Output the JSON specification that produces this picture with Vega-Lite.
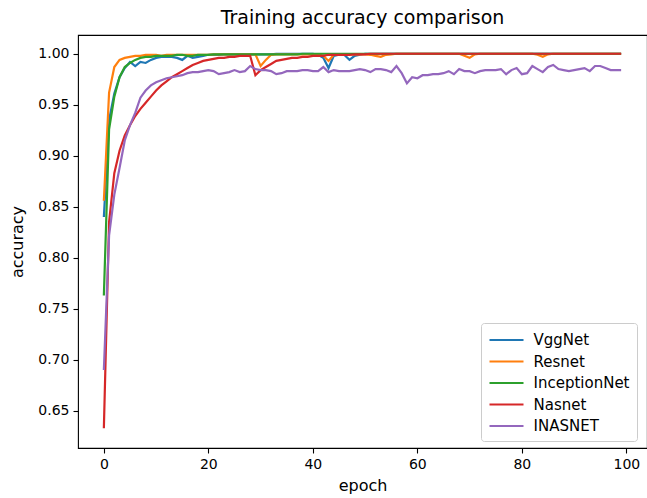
{
  "$schema": "https://vega.github.io/schema/vega-lite/v6.json",
  "width": 569,
  "height": 413,
  "autosize": {"type": "none"},
  "padding": {"left": 78, "top": 35, "right": 0, "bottom": 50},
  "background": "white",
  "title": {"text": "Training accuracy comparison", "font": "DejaVu Sans", "fontSize": 19, "fontWeight": "normal", "color": "black", "offset": 7, "anchor": "middle"},
  "config": {
    "view": {"stroke": "black", "strokeWidth": 1.1},
    "axis": {"domain": false, "grid": false, "tickColor": "black", "tickSize": 5, "tickWidth": 1.1, "labelFont": "DejaVu Sans", "labelFontSize": 14, "labelColor": "black", "labelPadding": 4, "titleFont": "DejaVu Sans", "titleFontSize": 16, "titleFontWeight": "normal", "titleColor": "black"},
    "legend": {"labelFont": "DejaVu Sans", "labelFontSize": 15, "labelColor": "black"}
  },
  "data": {"values": [
    {"epoch":0,"VggNet":0.840,"Resnet":0.856,"InceptionNet":0.763,"Nasnet":0.633,"INASNET":0.690},
    {"epoch":1,"VggNet":0.935,"Resnet":0.962,"InceptionNet":0.926,"Nasnet":0.835,"INASNET":0.822},
    {"epoch":2,"VggNet":0.961,"Resnet":0.987,"InceptionNet":0.958,"Nasnet":0.883,"INASNET":0.862},
    {"epoch":3,"VggNet":0.977,"Resnet":0.994,"InceptionNet":0.977,"Nasnet":0.905,"INASNET":0.888},
    {"epoch":4,"VggNet":0.986,"Resnet":0.996,"InceptionNet":0.987,"Nasnet":0.920,"INASNET":0.915},
    {"epoch":5,"VggNet":0.992,"Resnet":0.997,"InceptionNet":0.991,"Nasnet":0.930,"INASNET":0.930},
    {"epoch":6,"VggNet":0.988,"Resnet":0.998,"InceptionNet":0.994,"Nasnet":0.939,"INASNET":0.942},
    {"epoch":7,"VggNet":0.992,"Resnet":0.998,"InceptionNet":0.996,"Nasnet":0.946,"INASNET":0.957},
    {"epoch":8,"VggNet":0.991,"Resnet":0.999,"InceptionNet":0.997,"Nasnet":0.952,"INASNET":0.964},
    {"epoch":9,"VggNet":0.994,"Resnet":0.999,"InceptionNet":0.997,"Nasnet":0.958,"INASNET":0.969},
    {"epoch":10,"VggNet":0.996,"Resnet":0.999,"InceptionNet":0.998,"Nasnet":0.964,"INASNET":0.972},
    {"epoch":11,"VggNet":0.997,"Resnet":0.998,"InceptionNet":0.998,"Nasnet":0.969,"INASNET":0.974},
    {"epoch":12,"VggNet":0.997,"Resnet":0.999,"InceptionNet":0.998,"Nasnet":0.973,"INASNET":0.976},
    {"epoch":13,"VggNet":0.997,"Resnet":0.999,"InceptionNet":0.998,"Nasnet":0.977,"INASNET":0.977},
    {"epoch":14,"VggNet":0.996,"Resnet":0.999,"InceptionNet":0.999,"Nasnet":0.980,"INASNET":0.978},
    {"epoch":15,"VggNet":0.994,"Resnet":0.999,"InceptionNet":0.999,"Nasnet":0.983,"INASNET":0.979},
    {"epoch":16,"VggNet":0.998,"Resnet":0.999,"InceptionNet":0.998,"Nasnet":0.986,"INASNET":0.981},
    {"epoch":17,"VggNet":0.996,"Resnet":0.999,"InceptionNet":0.998,"Nasnet":0.989,"INASNET":0.982},
    {"epoch":18,"VggNet":0.997,"Resnet":0.999,"InceptionNet":0.999,"Nasnet":0.991,"INASNET":0.982},
    {"epoch":19,"VggNet":0.998,"Resnet":0.999,"InceptionNet":0.999,"Nasnet":0.993,"INASNET":0.983},
    {"epoch":20,"VggNet":0.999,"Resnet":0.999,"InceptionNet":0.999,"Nasnet":0.994,"INASNET":0.984},
    {"epoch":21,"VggNet":0.999,"Resnet":0.9995,"InceptionNet":0.9995,"Nasnet":0.995,"INASNET":0.983},
    {"epoch":22,"VggNet":0.999,"Resnet":0.9995,"InceptionNet":0.9995,"Nasnet":0.996,"INASNET":0.980},
    {"epoch":23,"VggNet":0.9995,"Resnet":0.9995,"InceptionNet":0.9995,"Nasnet":0.996,"INASNET":0.981},
    {"epoch":24,"VggNet":0.9995,"Resnet":0.9995,"InceptionNet":0.9995,"Nasnet":0.997,"INASNET":0.982},
    {"epoch":25,"VggNet":0.9995,"Resnet":0.9995,"InceptionNet":0.9995,"Nasnet":0.997,"INASNET":0.984},
    {"epoch":26,"VggNet":0.9995,"Resnet":0.9995,"InceptionNet":0.9995,"Nasnet":0.998,"INASNET":0.982},
    {"epoch":27,"VggNet":0.9995,"Resnet":0.9995,"InceptionNet":0.9995,"Nasnet":0.998,"INASNET":0.983},
    {"epoch":28,"VggNet":0.9995,"Resnet":0.9995,"InceptionNet":0.9995,"Nasnet":0.998,"INASNET":0.988},
    {"epoch":29,"VggNet":0.9995,"Resnet":0.9995,"InceptionNet":0.9995,"Nasnet":0.979,"INASNET":0.985},
    {"epoch":30,"VggNet":0.9995,"Resnet":0.988,"InceptionNet":0.9995,"Nasnet":0.984,"INASNET":0.984},
    {"epoch":31,"VggNet":0.9995,"Resnet":0.994,"InceptionNet":0.9995,"Nasnet":0.987,"INASNET":0.984},
    {"epoch":32,"VggNet":0.9995,"Resnet":0.999,"InceptionNet":0.9995,"Nasnet":0.990,"INASNET":0.983},
    {"epoch":33,"VggNet":1.0,"Resnet":0.9995,"InceptionNet":0.9995,"Nasnet":0.993,"INASNET":0.980},
    {"epoch":34,"VggNet":1.0,"Resnet":0.9995,"InceptionNet":0.9995,"Nasnet":0.994,"INASNET":0.981},
    {"epoch":35,"VggNet":1.0,"Resnet":0.9995,"InceptionNet":0.9995,"Nasnet":0.995,"INASNET":0.983},
    {"epoch":36,"VggNet":1.0,"Resnet":0.9995,"InceptionNet":0.9995,"Nasnet":0.996,"INASNET":0.983},
    {"epoch":37,"VggNet":1.0,"Resnet":0.9995,"InceptionNet":0.9995,"Nasnet":0.996,"INASNET":0.983},
    {"epoch":38,"VggNet":1.0,"Resnet":0.9995,"InceptionNet":1.0,"Nasnet":0.997,"INASNET":0.984},
    {"epoch":39,"VggNet":1.0,"Resnet":0.9995,"InceptionNet":1.0,"Nasnet":0.997,"INASNET":0.984},
    {"epoch":40,"VggNet":1.0,"Resnet":0.9995,"InceptionNet":1.0,"Nasnet":0.998,"INASNET":0.983},
    {"epoch":41,"VggNet":0.999,"Resnet":0.9995,"InceptionNet":1.0,"Nasnet":0.998,"INASNET":0.983},
    {"epoch":42,"VggNet":0.996,"Resnet":0.998,"InceptionNet":1.0,"Nasnet":0.998,"INASNET":0.987},
    {"epoch":43,"VggNet":0.986,"Resnet":0.993,"InceptionNet":1.0,"Nasnet":0.999,"INASNET":0.982},
    {"epoch":44,"VggNet":0.998,"Resnet":0.999,"InceptionNet":1.0,"Nasnet":0.999,"INASNET":0.984},
    {"epoch":45,"VggNet":0.999,"Resnet":0.9995,"InceptionNet":1.0,"Nasnet":0.999,"INASNET":0.983},
    {"epoch":46,"VggNet":0.999,"Resnet":0.9995,"InceptionNet":1.0,"Nasnet":0.999,"INASNET":0.983},
    {"epoch":47,"VggNet":0.994,"Resnet":0.9995,"InceptionNet":1.0,"Nasnet":0.999,"INASNET":0.983},
    {"epoch":48,"VggNet":0.998,"Resnet":0.9995,"InceptionNet":1.0,"Nasnet":0.9995,"INASNET":0.984},
    {"epoch":49,"VggNet":0.999,"Resnet":0.9995,"InceptionNet":1.0,"Nasnet":0.9995,"INASNET":0.985},
    {"epoch":50,"VggNet":1.0,"Resnet":0.9995,"InceptionNet":1.0,"Nasnet":0.9995,"INASNET":0.984},
    {"epoch":51,"VggNet":1.0,"Resnet":0.999,"InceptionNet":1.0,"Nasnet":1.0,"INASNET":0.982},
    {"epoch":52,"VggNet":1.0,"Resnet":0.998,"InceptionNet":1.0,"Nasnet":1.0,"INASNET":0.985},
    {"epoch":53,"VggNet":1.0,"Resnet":0.997,"InceptionNet":1.0,"Nasnet":1.0,"INASNET":0.985},
    {"epoch":54,"VggNet":1.0,"Resnet":0.999,"InceptionNet":1.0,"Nasnet":1.0,"INASNET":0.984},
    {"epoch":55,"VggNet":1.0,"Resnet":0.9995,"InceptionNet":1.0,"Nasnet":1.0,"INASNET":0.982},
    {"epoch":56,"VggNet":1.0,"Resnet":1.0,"InceptionNet":1.0,"Nasnet":1.0,"INASNET":0.988},
    {"epoch":57,"VggNet":1.0,"Resnet":1.0,"InceptionNet":1.0,"Nasnet":1.0,"INASNET":0.981},
    {"epoch":58,"VggNet":1.0,"Resnet":1.0,"InceptionNet":1.0,"Nasnet":1.0,"INASNET":0.971},
    {"epoch":59,"VggNet":1.0,"Resnet":1.0,"InceptionNet":1.0,"Nasnet":1.0,"INASNET":0.977},
    {"epoch":60,"VggNet":1.0,"Resnet":1.0,"InceptionNet":1.0,"Nasnet":1.0,"INASNET":0.976},
    {"epoch":61,"VggNet":1.0,"Resnet":1.0,"InceptionNet":1.0,"Nasnet":1.0,"INASNET":0.979},
    {"epoch":62,"VggNet":1.0,"Resnet":1.0,"InceptionNet":1.0,"Nasnet":1.0,"INASNET":0.979},
    {"epoch":63,"VggNet":1.0,"Resnet":1.0,"InceptionNet":1.0,"Nasnet":1.0,"INASNET":0.980},
    {"epoch":64,"VggNet":1.0,"Resnet":1.0,"InceptionNet":1.0,"Nasnet":1.0,"INASNET":0.980},
    {"epoch":65,"VggNet":1.0,"Resnet":1.0,"InceptionNet":1.0,"Nasnet":1.0,"INASNET":0.981},
    {"epoch":66,"VggNet":1.0,"Resnet":1.0,"InceptionNet":1.0,"Nasnet":1.0,"INASNET":0.983},
    {"epoch":67,"VggNet":1.0,"Resnet":1.0,"InceptionNet":1.0,"Nasnet":1.0,"INASNET":0.980},
    {"epoch":68,"VggNet":1.0,"Resnet":1.0,"InceptionNet":1.0,"Nasnet":1.0,"INASNET":0.985},
    {"epoch":69,"VggNet":1.0,"Resnet":0.998,"InceptionNet":1.0,"Nasnet":1.0,"INASNET":0.983},
    {"epoch":70,"VggNet":1.0,"Resnet":0.996,"InceptionNet":1.0,"Nasnet":1.0,"INASNET":0.983},
    {"epoch":71,"VggNet":1.0,"Resnet":0.9995,"InceptionNet":1.0,"Nasnet":1.0,"INASNET":0.981},
    {"epoch":72,"VggNet":1.0,"Resnet":1.0,"InceptionNet":1.0,"Nasnet":1.0,"INASNET":0.983},
    {"epoch":73,"VggNet":1.0,"Resnet":1.0,"InceptionNet":1.0,"Nasnet":1.0,"INASNET":0.984},
    {"epoch":74,"VggNet":1.0,"Resnet":1.0,"InceptionNet":1.0,"Nasnet":1.0,"INASNET":0.984},
    {"epoch":75,"VggNet":1.0,"Resnet":1.0,"InceptionNet":1.0,"Nasnet":1.0,"INASNET":0.984},
    {"epoch":76,"VggNet":1.0,"Resnet":1.0,"InceptionNet":1.0,"Nasnet":1.0,"INASNET":0.985},
    {"epoch":77,"VggNet":1.0,"Resnet":1.0,"InceptionNet":1.0,"Nasnet":1.0,"INASNET":0.980},
    {"epoch":78,"VggNet":1.0,"Resnet":1.0,"InceptionNet":1.0,"Nasnet":1.0,"INASNET":0.984},
    {"epoch":79,"VggNet":1.0,"Resnet":1.0,"InceptionNet":1.0,"Nasnet":1.0,"INASNET":0.986},
    {"epoch":80,"VggNet":1.0,"Resnet":1.0,"InceptionNet":1.0,"Nasnet":1.0,"INASNET":0.980},
    {"epoch":81,"VggNet":1.0,"Resnet":1.0,"InceptionNet":1.0,"Nasnet":1.0,"INASNET":0.981},
    {"epoch":82,"VggNet":1.0,"Resnet":1.0,"InceptionNet":1.0,"Nasnet":1.0,"INASNET":0.988},
    {"epoch":83,"VggNet":1.0,"Resnet":0.999,"InceptionNet":1.0,"Nasnet":1.0,"INASNET":0.985},
    {"epoch":84,"VggNet":1.0,"Resnet":0.997,"InceptionNet":1.0,"Nasnet":1.0,"INASNET":0.982},
    {"epoch":85,"VggNet":1.0,"Resnet":0.9995,"InceptionNet":1.0,"Nasnet":1.0,"INASNET":0.987},
    {"epoch":86,"VggNet":1.0,"Resnet":1.0,"InceptionNet":1.0,"Nasnet":1.0,"INASNET":0.989},
    {"epoch":87,"VggNet":1.0,"Resnet":1.0,"InceptionNet":1.0,"Nasnet":1.0,"INASNET":0.985},
    {"epoch":88,"VggNet":1.0,"Resnet":1.0,"InceptionNet":1.0,"Nasnet":1.0,"INASNET":0.984},
    {"epoch":89,"VggNet":1.0,"Resnet":1.0,"InceptionNet":1.0,"Nasnet":1.0,"INASNET":0.983},
    {"epoch":90,"VggNet":1.0,"Resnet":1.0,"InceptionNet":1.0,"Nasnet":1.0,"INASNET":0.984},
    {"epoch":91,"VggNet":1.0,"Resnet":1.0,"InceptionNet":1.0,"Nasnet":1.0,"INASNET":0.985},
    {"epoch":92,"VggNet":1.0,"Resnet":1.0,"InceptionNet":1.0,"Nasnet":1.0,"INASNET":0.986},
    {"epoch":93,"VggNet":1.0,"Resnet":1.0,"InceptionNet":1.0,"Nasnet":1.0,"INASNET":0.983},
    {"epoch":94,"VggNet":1.0,"Resnet":1.0,"InceptionNet":1.0,"Nasnet":1.0,"INASNET":0.988},
    {"epoch":95,"VggNet":1.0,"Resnet":1.0,"InceptionNet":1.0,"Nasnet":1.0,"INASNET":0.988},
    {"epoch":96,"VggNet":1.0,"Resnet":1.0,"InceptionNet":1.0,"Nasnet":1.0,"INASNET":0.986},
    {"epoch":97,"VggNet":1.0,"Resnet":1.0,"InceptionNet":1.0,"Nasnet":1.0,"INASNET":0.984},
    {"epoch":98,"VggNet":1.0,"Resnet":1.0,"InceptionNet":1.0,"Nasnet":1.0,"INASNET":0.984},
    {"epoch":99,"VggNet":1.0,"Resnet":1.0,"InceptionNet":1.0,"Nasnet":1.0,"INASNET":0.984}
  ]},
  "transform": [
    {"fold": ["VggNet", "Resnet", "InceptionNet", "Nasnet", "INASNET"], "as": ["model", "accuracy"]}
  ],
  "mark": {"type": "line", "strokeWidth": 2.2, "clip": true},
  "encoding": {
    "x": {"field": "epoch", "type": "quantitative", "title": "epoch",
      "scale": {"domain": [-4.95, 103.95], "nice": false, "zero": false},
      "axis": {"values": [0, 20, 40, 60, 80, 100], "titlePadding": 6}},
    "y": {"field": "accuracy", "type": "quantitative", "title": "accuracy",
      "scale": {"domain": [0.6136, 1.0184], "nice": false, "zero": false},
      "axis": {"values": [0.65, 0.70, 0.75, 0.80, 0.85, 0.90, 0.95, 1.00], "format": ".2f", "titlePadding": 12}},
    "color": {"field": "model", "type": "nominal",
      "scale": {"domain": ["VggNet", "Resnet", "InceptionNet", "Nasnet", "INASNET"], "range": ["#1f77b4", "#ff7f0e", "#2ca02c", "#d62728", "#9467bd"]},
      "legend": {"title": null, "orient": "none", "legendX": 403, "legendY": 288,
        "symbolType": "M-2,0H2", "symbolSize": 289, "symbolOffset": 8.5, "symbolStrokeWidth": 2.2,
        "labelOffset": 17, "rowPadding": 3.5, "padding": 7,
        "strokeColor": "#cccccc", "fillColor": "white", "cornerRadius": 3}}
  }
}
